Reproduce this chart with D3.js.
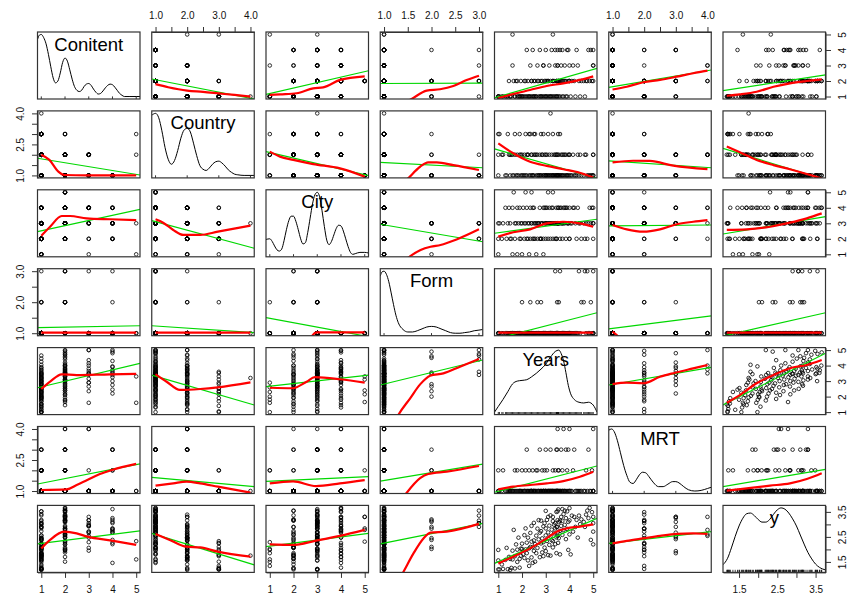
<!DOCTYPE html>
<html><head><meta charset="utf-8">
<script src="https://cdn.jsdelivr.net/npm/d3@7"></script>
<style>body{margin:0;background:#fff} svg{display:block}</style>
</head><body>
<script>
// ---------------- DATA ----------------
const varNames = ["Conitent","Country","City","Form","Years","MRT","y"];

const years = [1.00,1.00,1.00,1.05,1.15,1.20,1.30,1.35,1.40,1.45,
1.50,1.50,1.55,1.60,1.60,1.65,1.70,1.70,1.75,1.80,
1.80,1.85,1.90,1.90,1.95,1.95,2.00,2.00,2.05,2.10,
2.10,2.15,2.15,2.20,2.20,2.25,2.25,2.30,2.30,2.35,
2.35,2.40,2.40,2.40,2.45,2.45,2.50,2.50,2.50,2.55,
2.55,2.60,2.60,2.65,2.65,2.70,2.70,2.75,2.75,2.80,
2.80,2.80,2.85,2.85,2.90,2.90,2.90,2.95,2.95,3.00,
3.00,3.00,3.00,3.05,3.05,3.10,3.10,3.10,3.15,3.15,
3.20,3.20,3.20,3.25,3.25,3.30,3.30,3.30,3.30,3.35,
3.35,3.40,3.40,3.40,3.45,3.45,3.45,3.48,3.50,3.50,
3.52,3.50,3.46,3.53,3.50,3.55,3.55,3.60,3.60,3.60,
3.65,3.65,3.70,3.70,3.70,3.75,3.75,3.80,3.80,3.85,
3.85,3.90,3.90,3.95,3.95,4.00,4.00,4.00,4.05,4.10,
4.15,4.20,4.25,4.30,4.35,4.40,4.45,4.50,4.60,4.65,
4.70,4.75,4.80,4.85,4.90,4.95,5.00,5.00,5.00,5.00];

const yVals = [1.20,1.56,1.98,1.20,1.40,1.22,1.58,2.06,1.21,1.70,
1.18,1.62,1.26,1.95,1.60,2.78,1.73,1.24,2.20,1.50,
1.99,2.47,1.62,1.27,2.03,1.75,2.23,2.02,1.81,2.57,
1.66,2.00,2.84,1.85,2.27,1.56,2.47,2.04,1.34,2.66,
2.10,2.31,1.68,2.94,2.09,1.46,2.36,1.94,3.06,2.21,
1.51,2.55,1.85,2.83,2.06,2.40,3.17,1.69,2.67,2.24,
3.15,2.73,1.88,2.44,2.92,1.73,2.29,3.05,2.07,2.56,
3.54,1.93,2.84,2.34,3.18,2.68,1.77,3.30,2.95,2.18,
2.52,3.36,1.75,2.79,2.37,3.13,2.08,3.30,2.33,2.64,
2.99,3.05,2.21,2.84,3.50,2.48,1.85,2.90,3.52,2.68,
2.26,3.17,2.89,3.60,2.54,3.09,2.45,3.15,2.74,1.80,
3.30,2.94,3.14,2.58,3.61,2.78,3.41,2.98,3.55,2.41,
3.25,2.82,3.52,1.98,3.10,3.65,2.60,3.16,1.80,3.35,
2.71,3.30,2.90,3.18,2.47,3.35,3.01,3.20,3.10,2.90,
3.39,3.55,3.25,3.66,2.38,3.49,3.05,2.20,3.30,2.71];

const conitent = [1,1,1,1,1,1,1,1,1,2, 1,1,1,3,5,2,1,1,2,1, 2,1,1,1,2,1,1,1,1,2,
1,1,2,1,4,1,2,1,1,3, 1,2,1,2,1,4,1,2,1,1, 2,1,1,2,3,1,2,1,4,1, 2,1,2,1,3,1,3,1,2,1,
2,1,4,2,1,2,1,2,3,1, 2,1,1,4,1,2,1,2,5,2, 1,3,4,1,2,2,1,2,1,4, 2,3,1,2,3,2,1,2,4,1,
2,3,1,2,4,2,1,3,2,1, 2,4,1,2,4,2,2,3,1,2, 3,2,1,4,3,2,1,2,2,1, 2,2,4,2,4,2,4,2,3,3];

const country = [3,2,1,3,2,2,1,1,3,2, 2,1,2,1,2,1,2,3,1,1, 2,1,2,3,1,2,1,2,1,1,
2,3,1,2,1,2,2,1,3,1, 3,1,2,2,1,1,2,3,1,2, 3,1,2,1,2,1,1,2,1,3, 1,1,2,2,1,3,1,1,2,1,
1,2,1,2,1,1,3,1,1,2, 1,1,4,1,2,1,1,1,3,2, 1,1,1,2,1,2,1,1,1,1, 3,1,2,1,2,1,2,1,1,3,
2,1,1,2,1,2,1,2,1,2, 1,1,1,2,1,1,2,2,1,1, 2,1,1,1,2,1,2,1,1,2, 2,1,1,1,1,1,1,1,2,2];

const city = [2,3,1,3,2,3,4,2,3,4, 3,2,2,4,1,5,3,2,3,1, 4,3,2,4,3,2,3,1,4,3,
2,3,5,4,2,3,2,3,1,4, 2,5,3,3,2,4,2,3,4,3, 2,3,1,3,2,3,3,4,2,3, 2,2,3,3,4,2,1,3,4,3,
2,3,4,3,4,3,2,5,3,4, 3,2,3,4,3,4,2,5,3,3, 3,3,2,3,3,4,2,3,3,3, 4,3,2,4,3,3,3,3,4,2,
3,4,3,2,3,4,3,4,3,2, 4,3,4,3,3,4,2,2,3,3, 4,4,3,2,4,3,3,2,3,2, 3,2,3,4,3,4,3,2,4,3];

const form = [1,1,1,1,1,1,1,1,1,1, 1,1,1,1,1,1,1,1,1,1, 1,1,1,1,1,1,1,2,1,1,
1,1,1,1,1,1,1,1,1,1, 2,1,1,1,1,1,1,1,1,1, 1,1,1,2,1,1,1,1,1,1, 2,1,1,1,1,1,1,1,1,1,
1,1,1,1,1,1,1,1,1,1, 1,1,1,1,1,1,1,1,1,1, 1,3,1,1,1,1,1,2,1,1, 1,1,1,1,1,1,2,3,1,1,
1,1,1,1,1,1,1,1,1,1, 1,1,1,1,1,1,1,1,1,1, 1,1,1,1,1,3,1,2,2,3, 1,3,1,1,2,1,3,1,1,1];

const mrt = [1,1,2,1,1,2,1,1,1,1, 1,1,1,1,1,1,2,1,1,1, 2,1,1,1,1,1,2,1,1,1,
1,1,2,3,1,1,1,1,2,1, 1,1,1,1,2,1,1,1,1,1, 1,2,1,2,1,1,1,1,3,1, 1,1,2,1,1,1,1,2,1,1,
1,3,1,1,2,1,1,1,1,1, 3,1,1,1,1,2,1,1,1,1, 1,1,2,1,1,3,1,3,1,1, 2,1,1,1,4,1,2,1,1,1,
3,1,2,1,1,4,1,1,1,3, 1,2,1,1,3,1,4,1,1,1, 2,3,1,1,1,1,1,1,1,1, 2,1,3,1,1,2,1,1,4,1];

// axis ticks and labels
const tickValues = [[1,2,3,4,5],[1,1.5,2,2.5,3,3.5,4],[1,2,3,4,5],[1,1.5,2,2.5,3],[1,2,3,4,5],[1,1.5,2,2.5,3,3.5,4],[1.5,2,2.5,3,3.5]];
const hLabels = [[1,2,3,4,5],[1,2,3,4],[1,2,3,4,5],[1,1.5,2,2.5,3],[1,2,3,4,5],[1,2,3,4],[1.5,2.5,3.5]];
const vLabels = [[1,2,3,4,5],[1,2.5,4],[1,2,3,4,5],[1,2,3],[1,2,3,4,5],[1,2.5,4],[1.5,2.5,3.5]];
const labelDecimals = [0,1,0,1,0,1,1];

// linear fits (green): [row, col, x0, y0, x1, y1]
const linearFits = [
[0,1,0.88,2.13,4.12,0.84],[0,2,0.84,1.14,5.16,2.66],[0,3,0.92,1.84,3.08,1.87],[0,4,0.84,0.92,5.16,2.82],[0,5,0.88,1.59,4.12,2.71],[0,6,1.08,1.38,3.76,2.39],
[1,0,0.84,1.83,5.16,1.02],[1,2,0.84,2.15,5.16,0.99],[1,3,0.92,1.63,3.08,1.37],[1,4,0.84,2.28,5.16,0.86],[1,5,0.88,1.70,4.12,1.37],[1,6,1.08,2.31,3.76,0.79],
[2,0,0.84,2.46,5.16,3.90],[2,1,0.88,3.17,4.12,1.39],[2,3,0.92,2.94,3.08,1.81],[2,4,0.84,2.36,5.16,3.26],[2,5,0.88,2.83,4.12,2.89],[2,6,1.08,2.31,3.76,3.43],
[3,0,0.84,1.18,5.16,1.24],[3,1,0.88,1.24,4.12,1.02],[3,2,0.84,1.50,5.16,0.89],[3,4,0.84,0.81,5.16,1.66],[3,5,0.88,1.14,4.12,1.56],[3,6,1.08,0.91,3.76,1.66],
[4,0,0.84,2.57,5.16,4.15],[4,1,0.88,3.39,4.12,1.46],[4,2,0.84,2.64,5.16,3.39],[4,3,0.92,2.75,3.08,4.36],[4,5,0.88,2.75,4.12,3.89],[4,6,1.08,1.46,3.76,4.79],
[5,0,0.84,1.34,5.16,2.31],[5,1,0.88,1.66,4.12,1.21],[5,2,0.84,1.47,5.16,1.70],[5,3,0.92,1.48,3.08,2.30],[5,4,0.84,0.94,5.16,2.21],[5,6,1.08,1.21,3.76,2.05],
[6,0,0.84,2.22,5.16,2.74],[6,1,0.88,2.64,4.12,1.38],[6,2,0.84,2.11,5.16,2.64],[6,3,0.92,2.22,3.08,3.04],[6,4,0.84,1.44,5.16,3.24],[6,5,0.88,2.24,4.12,2.71]
];

// smooth fits (red): [row, col, points]
const smoothFits = [
[0,1,[[1.0,1.8],[1.4,1.6],[2.0,1.38],[2.5,1.3],[3.0,1.2],[3.5,1.1],[4.0,0.99]]],
[0,2,[[1.0,1.1],[1.43,1.14],[2.13,1.21],[2.83,1.53],[3.25,1.59],[3.96,2.07],[5.0,2.3]]],
[0,3,[[1.0,-0.1],[1.58,0.84],[1.9,1.38],[2.18,1.47],[2.46,1.68],[2.74,2.06],[3.0,2.34]]],
[0,4,[[1.0,0.9],[1.63,1.16],[2.34,1.42],[3.04,1.68],[3.74,1.85],[4.44,2.07],[5.0,2.3]]],
[0,5,[[1.0,1.45],[1.45,1.63],[1.97,1.92],[2.5,2.07],[3.03,2.28],[3.55,2.5],[4.0,2.67]]],
[0,6,[[1.18,1.05],[1.52,1.14],[1.96,1.31],[2.4,1.63],[2.83,1.85],[3.27,2.0],[3.66,2.11]]],
[1,0,[[1.0,2.0],[1.34,1.75],[1.72,1.18],[1.96,1.02],[2.94,1.0],[5.0,1.0]]],
[1,2,[[1.0,2.15],[1.43,1.91],[1.99,1.75],[2.83,1.55],[3.96,1.34],[5.0,0.94]]],
[1,3,[[1.3,0.4],[1.52,0.89],[1.76,1.42],[1.93,1.63],[2.11,1.63],[2.46,1.5],[3.0,1.26]]],
[1,4,[[1.0,2.55],[1.63,2.07],[2.34,1.66],[3.04,1.46],[3.74,1.3],[4.43,1.13],[5.0,0.9]]],
[1,5,[[1.0,1.63],[1.65,1.71],[2.18,1.7],[2.92,1.47],[4.0,1.3]]],
[1,6,[[1.18,2.4],[1.52,2.12],[1.96,1.75],[2.4,1.5],[2.83,1.3],[3.27,1.07],[3.66,0.85]]],
[2,0,[[1.0,2.2],[1.37,2.78],[1.86,3.47],[2.21,3.47],[2.91,3.32],[3.9,3.26],[5.0,3.21]]],
[2,1,[[1.0,3.26],[1.24,3.04],[1.56,2.57],[1.88,2.25],[2.41,2.25],[2.97,2.46],[4.0,2.85]]],
[2,3,[[1.3,0.2],[1.52,0.81],[1.77,1.28],[1.98,1.49],[2.19,1.6],[2.54,1.97],[3.0,2.61]]],
[2,4,[[1.0,2.14],[1.63,2.42],[2.34,2.61],[3.04,3.0],[3.74,3.1],[4.44,3.0],[5.0,2.78]]],
[2,5,[[1.0,2.89],[1.45,2.61],[1.97,2.46],[2.5,2.61],[3.03,2.94],[3.55,3.1],[4.0,3.21]]],
[2,6,[[1.18,2.57],[1.7,2.61],[2.31,2.78],[2.83,3.04],[3.27,3.32],[3.66,3.64]]],
[3,0,[[1.0,1.02],[5.0,1.02]]],
[3,1,[[1.0,1.02],[4.0,1.02]]],
[3,2,[[2.5,0.3],[2.81,0.94],[2.98,1.03],[5.0,1.03]]],
[3,4,[[1.0,1.02],[5.0,1.02]]],
[3,5,[[1.0,1.05],[1.13,0.94],[1.4,0.6]]],
[3,6,[[1.18,1.02],[3.66,1.02]]],
[4,0,[[1.0,2.49],[1.37,2.96],[1.86,3.44],[2.49,3.39],[3.9,3.44],[5.0,3.46]]],
[4,1,[[1.0,3.44],[1.35,2.96],[1.77,2.43],[2.41,2.49],[2.97,2.6],[4.0,2.92]]],
[4,2,[[1.0,2.57],[1.96,2.54],[2.55,2.96],[2.9,3.25],[3.96,3.12],[5.0,2.9]]],
[4,3,[[1.1,-0.5],[1.3,0.81],[1.55,1.89],[1.76,2.79],[1.97,3.35],[2.25,3.5],[2.6,3.93],[3.0,4.42]]],
[4,5,[[1.0,2.81],[1.45,2.9],[1.97,2.86],[2.5,3.28],[2.98,3.54],[3.55,3.82],[4.0,4.04]]],
[4,6,[[1.18,1.6],[1.52,2.1],[1.96,2.86],[2.4,3.39],[2.83,3.83],[3.27,4.04],[3.66,4.36]]],
[5,0,[[1.0,1.05],[2.07,1.08],[2.49,1.29],[2.94,1.53],[3.47,1.82],[3.97,2.02],[5.0,2.31]]],
[5,1,[[1.0,1.26],[1.56,1.37],[1.98,1.45],[2.41,1.37],[2.97,1.21],[4.0,0.92]]],
[5,2,[[1.0,1.37],[1.98,1.47],[2.95,1.24],[3.96,1.37],[5.0,1.53]]],
[5,3,[[1.2,0.0],[1.47,0.89],[1.76,1.62],[1.93,1.82],[2.32,1.94],[3.0,2.21]]],
[5,4,[[1.0,1.08],[1.63,1.21],[2.34,1.29],[3.04,1.37],[3.74,1.48],[4.44,1.69],[5.0,1.93]]],
[5,6,[[1.18,1.02],[1.7,1.13],[2.31,1.26],[2.83,1.37],[3.27,1.58],[3.66,1.86]]],
[6,0,[[1.0,2.04],[1.37,2.38],[1.96,2.71],[2.49,2.64],[2.94,2.51],[3.97,2.35],[5.0,2.18]]],
[6,1,[[1.0,2.62],[1.45,2.38],[1.98,2.11],[2.41,2.08],[2.97,1.91],[4.0,1.71]]],
[6,2,[[1.0,2.2],[1.96,2.18],[2.95,2.35],[3.96,2.54],[5.0,2.78]]],
[6,3,[[1.2,0.4],[1.41,1.11],[1.62,1.84],[1.83,2.44],[1.98,2.67],[2.32,2.71],[3.0,3.02]]],
[6,4,[[1.0,1.44],[1.63,1.71],[2.34,2.04],[3.04,2.44],[3.46,2.71],[3.88,2.84],[4.44,2.91],[5.0,3.0]]],
[6,5,[[1.0,2.24],[1.45,2.34],[1.97,2.44],[2.5,2.54],[3.03,2.62],[3.55,2.64],[4.0,2.62]]]
];

// density curves on the diagonal (relative density)
const densConitent = [[0.84,0.92],[0.92,0.99],[1.0,1.0],[1.1,0.95],[1.2,0.85],[1.3,0.68],[1.4,0.48],[1.5,0.3],[1.6,0.22],[1.7,0.25],[1.8,0.38],[1.9,0.55],[2.0,0.62],[2.1,0.57],[2.2,0.43],[2.3,0.28],[2.4,0.16],[2.5,0.1],[2.6,0.08],[2.7,0.1],[2.8,0.16],[2.9,0.2],[3.0,0.21],[3.1,0.18],[3.2,0.12],[3.3,0.07],[3.4,0.04],[3.5,0.05],[3.6,0.09],[3.7,0.14],[3.8,0.18],[3.9,0.2],[4.0,0.19],[4.1,0.15],[4.2,0.1],[4.3,0.05],[4.4,0.02],[4.5,0.0],[4.7,0.0],[5.0,0.0],[5.16,0.0]];
const densCountry = [[0.88,0.97],[1.0,1.0],[1.1,0.93],[1.2,0.72],[1.3,0.45],[1.4,0.26],[1.5,0.18],[1.6,0.24],[1.7,0.4],[1.8,0.6],[1.9,0.73],[2.0,0.76],[2.1,0.7],[2.2,0.52],[2.3,0.32],[2.4,0.16],[2.5,0.1],[2.6,0.08],[2.7,0.12],[2.8,0.18],[2.9,0.22],[3.0,0.23],[3.1,0.2],[3.2,0.15],[3.3,0.09],[3.4,0.05],[3.5,0.02],[3.6,0.01],[3.8,0.0],[4.0,0.0],[4.12,0.0]];
const densCity = [[0.84,0.27],[1.0,0.28],[1.1,0.24],[1.2,0.17],[1.3,0.11],[1.4,0.09],[1.5,0.12],[1.6,0.25],[1.7,0.42],[1.8,0.56],[1.9,0.63],[2.0,0.63],[2.1,0.55],[2.2,0.42],[2.3,0.28],[2.4,0.2],[2.5,0.22],[2.6,0.38],[2.7,0.6],[2.8,0.82],[2.9,0.96],[3.0,1.0],[3.1,0.93],[3.2,0.72],[3.3,0.47],[3.4,0.26],[3.5,0.19],[3.6,0.24],[3.7,0.34],[3.8,0.44],[3.9,0.49],[4.0,0.48],[4.1,0.4],[4.2,0.28],[4.3,0.16],[4.4,0.07],[4.5,0.04],[4.6,0.05],[4.8,0.07],[5.0,0.07],[5.16,0.06]];
const densForm = [[0.92,0.92],[0.96,0.99],[1.0,1.0],[1.05,0.95],[1.1,0.83],[1.15,0.65],[1.2,0.46],[1.25,0.29],[1.3,0.17],[1.4,0.06],[1.5,0.02],[1.6,0.02],[1.7,0.04],[1.8,0.07],[1.9,0.1],[2.0,0.11],[2.1,0.1],[2.2,0.07],[2.3,0.04],[2.4,0.01],[2.5,0.0],[2.6,0.0],[2.7,0.01],[2.8,0.02],[2.9,0.04],[3.0,0.05],[3.08,0.06]];
const densYears = [[0.84,0.12],[1.0,0.2],[1.2,0.3],[1.4,0.41],[1.6,0.52],[1.8,0.56],[2.0,0.57],[2.2,0.58],[2.4,0.62],[2.6,0.67],[2.8,0.73],[3.0,0.8],[3.2,0.9],[3.4,0.98],[3.55,1.0],[3.65,0.95],[3.75,0.85],[3.85,0.68],[3.95,0.5],[4.05,0.38],[4.2,0.3],[4.4,0.26],[4.6,0.25],[4.8,0.26],[5.0,0.22],[5.16,0.12]];
const densMRT = [[0.88,0.98],[0.97,1.0],[1.05,0.96],[1.15,0.82],[1.25,0.62],[1.35,0.42],[1.45,0.26],[1.55,0.15],[1.65,0.13],[1.75,0.19],[1.85,0.27],[1.95,0.31],[2.05,0.3],[2.15,0.24],[2.3,0.14],[2.45,0.08],[2.6,0.08],[2.75,0.12],[2.9,0.16],[3.0,0.16],[3.1,0.14],[3.25,0.08],[3.4,0.03],[3.6,0.01],[3.8,0.02],[4.0,0.05],[4.12,0.07]];
const densY = [[1.08,0.12],[1.2,0.22],[1.3,0.38],[1.4,0.56],[1.5,0.72],[1.6,0.84],[1.7,0.91],[1.8,0.92],[1.9,0.88],[2.0,0.82],[2.1,0.78],[2.2,0.78],[2.3,0.82],[2.4,0.9],[2.5,0.97],[2.6,1.0],[2.7,0.98],[2.8,0.92],[2.9,0.83],[3.0,0.72],[3.1,0.58],[3.2,0.44],[3.3,0.31],[3.4,0.21],[3.5,0.13],[3.6,0.08],[3.76,0.04]];

// ---------------- DRAWING ----------------
const columns = [conitent, country, city, form, years, mrt, yVals];
const densities = [densConitent, densCountry, densCity, densForm, densYears, densMRT, densY];
const nV = 7;
const W = 848, H = 598;
const panelW = 102.5, panelH = 67, left0 = 37.5, stepX = 114.25, top0 = 32, stepY = 78.9;
const FONT = "'Liberation Sans', Arial, Helvetica, sans-serif";

const domains = columns.map(a => { const e = d3.extent(a); const p = (e[1]-e[0])*0.04; return [e[0]-p, e[1]+p]; });
const xScale = j => d3.scaleLinear().domain(domains[j]).range([left0 + stepX*j, left0 + stepX*j + panelW]);
const yScale = i => d3.scaleLinear().domain(domains[i]).range([top0 + stepY*i + panelH, top0 + stepY*i]);

const svg = d3.select("body").append("svg").attr("width", W).attr("height", H)
  .style("font-family", FONT);
const defs = svg.append("defs");

for (let i = 0; i < nV; i++) {
  for (let j = 0; j < nV; j++) {
    const xs = xScale(j);
    const px0 = xs.range()[0];
    const py0 = top0 + stepY*i;
    const id = `clip-${i}-${j}`;
    defs.append("clipPath").attr("id", id).append("rect")
      .attr("x", px0).attr("y", py0).attr("width", panelW).attr("height", panelH);
    const g = svg.append("g").attr("clip-path", `url(#${id})`);

    if (i === j) {
      const dens = densities[i];
      const hExt = d3.extent(dens, d => d[1]);
      const pad = (hExt[1]-hExt[0])*0.04;
      const ds = d3.scaleLinear().domain([hExt[0]-pad, hExt[1]+pad]).range([py0 + panelH, py0]);
      g.append("path").datum(dens)
        .attr("d", d3.line().x(d => xs(d[0])).y(d => ds(d[1])).curve(d3.curveMonotoneX))
        .attr("fill", "none").attr("stroke", "#000").attr("stroke-width", 1);
      const uniq = Array.from(new Set(columns[i]));
      g.selectAll("line.rug").data(uniq).enter().append("line")
        .attr("x1", d => xs(d)).attr("x2", d => xs(d))
        .attr("y1", py0 + panelH).attr("y2", py0 + panelH - 2.6)
        .attr("stroke", "#000").attr("stroke-width", 0.8);
      svg.append("text").attr("x", px0 + panelW/2).attr("y", py0 + 18.5)
        .attr("text-anchor", "middle").attr("font-size", "18.5px").attr("fill", "#000")
        .text(varNames[i]);
    } else {
      const ys = yScale(i);
      const xv = columns[j], yv = columns[i];
      g.selectAll("circle").data(d3.range(xv.length)).enter().append("circle")
        .attr("cx", k => xs(xv[k])).attr("cy", k => ys(yv[k])).attr("r", 1.8)
        .attr("fill", "none").attr("stroke", "#000").attr("stroke-width", 0.8);
      const lf = linearFits.find(f => f[0] === i && f[1] === j);
      if (lf) {
        g.append("line").attr("x1", xs(lf[2])).attr("y1", ys(lf[3])).attr("x2", xs(lf[4])).attr("y2", ys(lf[5]))
          .attr("stroke", "#00d800").attr("stroke-width", 1.2);
      }
      const sf = smoothFits.find(f => f[0] === i && f[1] === j);
      if (sf) {
        g.append("path").datum(sf[2])
          .attr("d", d3.line().x(d => xs(d[0])).y(d => ys(d[1])).curve(d3.curveMonotoneX))
          .attr("fill", "none").attr("stroke", "#ff0000").attr("stroke-width", 2.2)
          .attr("stroke-linejoin", "round");
      }
    }
    svg.append("rect").attr("x", px0).attr("y", py0).attr("width", panelW).attr("height", panelH)
      .attr("fill", "none").attr("stroke", "#333").attr("stroke-width", 1.2);
  }
}

// ---------------- AXES ----------------
function fmt(j) { return d => d.toFixed(labelDecimals[j]); }
function styleAxis(g) {
  g.selectAll("path.domain").attr("stroke", "#333").attr("stroke-width", 1);
  g.selectAll(".tick line").attr("stroke", "#333").attr("stroke-width", 1);
  g.selectAll("text").attr("font-size", "10px").attr("fill", "#111").attr("font-family", FONT);
}
function hasLabel(list, d) { return list.some(v => Math.abs(v - d) < 1e-9); }

// top axes (cols 1,3,5)
[1,3,5].forEach(j => {
  const ax = d3.axisTop(xScale(j)).tickValues(tickValues[j]).tickSize(5).tickSizeOuter(0)
    .tickFormat(d => hasLabel(hLabels[j], d) ? fmt(j)(d) : "");
  const g = svg.append("g").attr("transform", `translate(0,${top0})`).call(ax);
  styleAxis(g);
  g.selectAll("text").attr("y", -17).attr("dy", null).attr("dominant-baseline", "central");
});
// bottom axes (cols 0,2,4,6)
[0,2,4,6].forEach(j => {
  const ax = d3.axisBottom(xScale(j)).tickValues(tickValues[j]).tickSize(5.5).tickSizeOuter(0)
    .tickFormat(d => hasLabel(hLabels[j], d) ? fmt(j)(d) : "");
  const g = svg.append("g").attr("transform", `translate(0,${top0 + stepY*6 + panelH})`).call(ax);
  styleAxis(g);
  g.selectAll("text").attr("y", 17.5).attr("dy", null).attr("dominant-baseline", "central");
});
// left axes (rows 1,3,5)
[1,3,5].forEach(i => {
  const ax = d3.axisLeft(yScale(i)).tickValues(tickValues[i]).tickSize(5.5).tickSizeOuter(0)
    .tickFormat(d => hasLabel(vLabels[i], d) ? fmt(i)(d) : "");
  const g = svg.append("g").attr("transform", `translate(${left0},0)`).call(ax);
  styleAxis(g);
  g.selectAll("text").attr("x", 0).attr("dy", null).attr("text-anchor", "middle")
    .attr("dominant-baseline", "central").attr("transform", "translate(-17.5,0) rotate(-90)");
});
// right axes (rows 0,2,4,6)
[0,2,4,6].forEach(i => {
  const ax = d3.axisRight(yScale(i)).tickValues(tickValues[i]).tickSize(5.5).tickSizeOuter(0)
    .tickFormat(d => hasLabel(vLabels[i], d) ? fmt(i)(d) : "");
  const g = svg.append("g").attr("transform", `translate(${left0 + stepX*6 + panelW},0)`).call(ax);
  styleAxis(g);
  g.selectAll("text").attr("x", 0).attr("dy", null).attr("text-anchor", "middle")
    .attr("dominant-baseline", "central").attr("transform", "translate(16.5,0) rotate(-90)");
});
</script>
</body></html>
